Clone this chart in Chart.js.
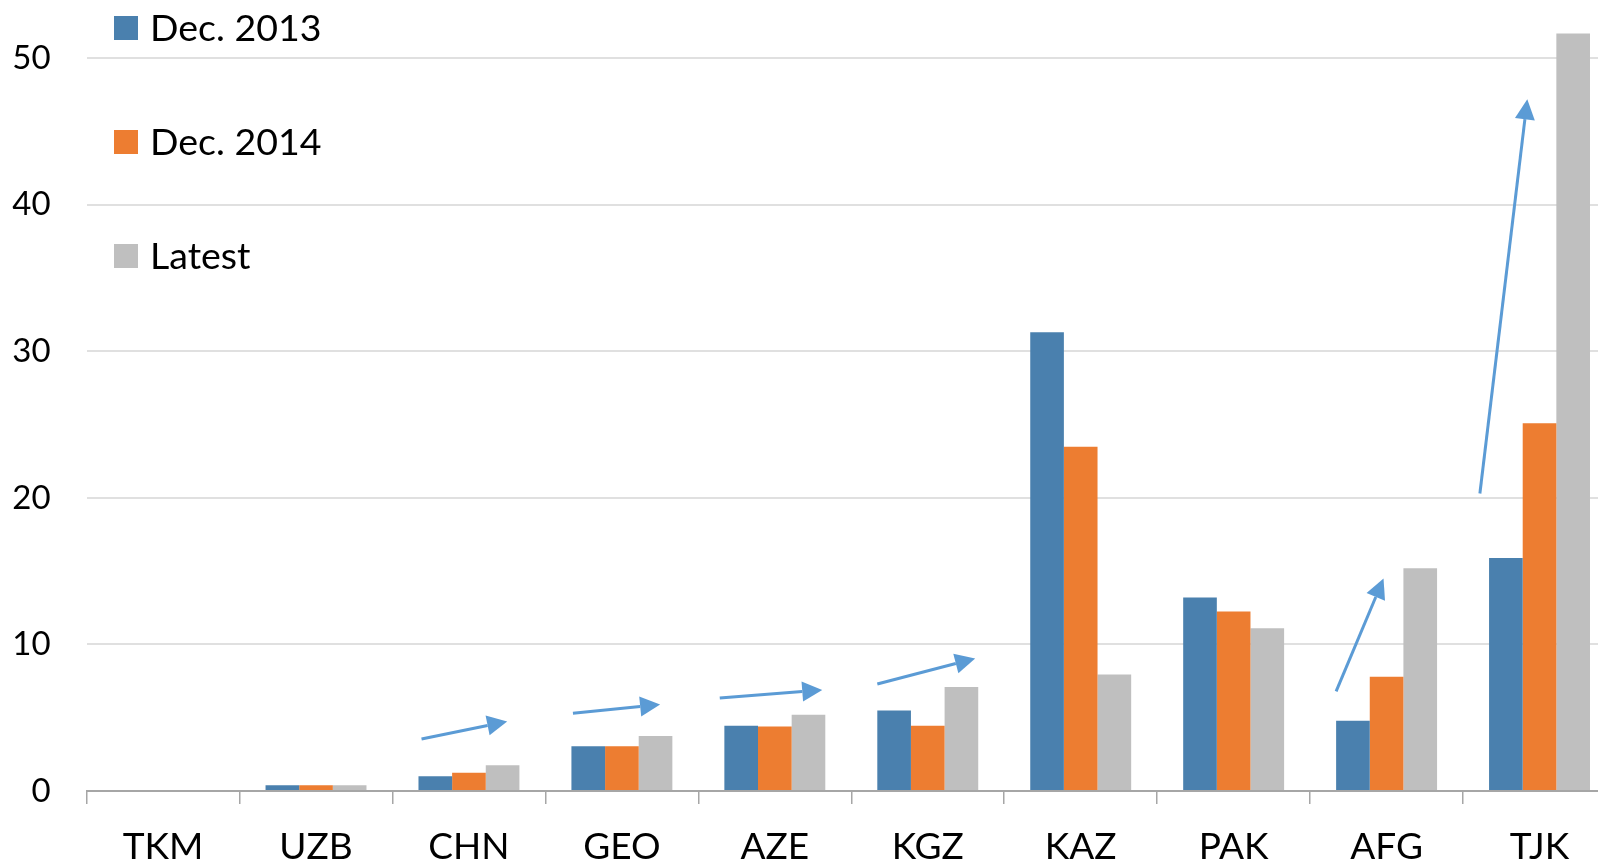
<!DOCTYPE html>
<html>
<head>
<meta charset="utf-8">
<script src="https://cdn.jsdelivr.net/npm/chart.js@4/dist/chart.umd.min.js"></script>
<style>
    html, body {margin: 0; padding: 0; background: #fff; overflow: hidden;}
    #wrap {position: relative; width: 1616px; height: 863px;}
</style>
</head>
<body>
<div id="wrap"><canvas id="myChart"></canvas></div>
<script>
const countries = ['TKM', 'UZB', 'CHN', 'GEO', 'AZE', 'KGZ', 'KAZ', 'PAK', 'AFG', 'TJK'];
const dec2013 = [0, 0.4, 1.0, 3.05, 4.45, 5.5, 31.3, 13.2, 4.8, 15.9];
const dec2014 = [0, 0.4, 1.25, 3.05, 4.4, 4.45, 23.5, 12.25, 7.8, 25.1];
const latest = [0, 0.4, 1.75, 3.75, 5.2, 7.1, 7.95, 11.1, 15.2, 51.7];
const yTicks = [0, 10, 20, 30, 40, 50];

// trend arrows: [fromIndex, fromValue, toIndex, toValue]
const arrows = [
    [1.69, 3.55, 2.25, 4.75],
    [2.68, 5.3, 3.25, 5.9],
    [3.64, 6.35, 4.31, 6.9],
    [4.67, 7.3, 5.31, 9.05],
    [7.67, 6.8, 7.98, 14.5],
    [8.61, 20.3, 8.92, 47.2]
];

const FONT = 'Lato, "Open Sans", sans-serif';

const extras = {
    id: 'extras',
    afterDatasetsDraw(chart) {
        const c = chart.ctx;
        const xs = chart.scales.x, ys = chart.scales.y;
        c.save();
        c.strokeStyle = '#5b9bd5';
        c.fillStyle = '#5b9bd5';
        c.lineWidth = 3;
        arrows.forEach(function (a) {
            const x0 = xs.getPixelForValue(a[0]), y0 = ys.getPixelForValue(a[1]);
            const x1 = xs.getPixelForValue(a[2]), y1 = ys.getPixelForValue(a[3]);
            const ang = Math.atan2(y1 - y0, x1 - x0);
            const hl = 20, hw = 10;
            const bx = x1 - hl * Math.cos(ang), by = y1 - hl * Math.sin(ang);
            c.beginPath();
            c.moveTo(x0, y0);
            c.lineTo(bx, by);
            c.stroke();
            c.beginPath();
            c.moveTo(x1, y1);
            c.lineTo(bx + hw * Math.sin(ang), by - hw * Math.cos(ang));
            c.lineTo(bx - hw * Math.sin(ang), by + hw * Math.cos(ang));
            c.closePath();
            c.fill();
        });
        c.restore();

        // legend, stacked down the top left
        c.save();
        c.font = '37.5px ' + FONT;
        c.textBaseline = 'middle';
        chart.data.datasets.forEach(function (ds, i) {
            const cy = 28 + i * 114;
            c.fillStyle = ds.backgroundColor;
            c.fillRect(114, cy - 12, 24, 24);
            c.fillStyle = '#000';
            c.fillText(ds.label, 150, cy + 1);
        });
        c.restore();
    }
};

const ctx = document.getElementById('myChart');
new Chart(ctx, {
    type: 'bar',
    data: {
        labels: countries,
        datasets: [
            {label: 'Dec. 2013', data: dec2013, backgroundColor: '#4a80ae'},
            {label: 'Dec. 2014', data: dec2014, backgroundColor: '#ed7d31'},
            {label: 'Latest', data: latest, backgroundColor: '#bfbfbf'}
        ]
    },
    options: {
        responsive: true,
        maintainAspectRatio: false,
        animation: false,
        layout: {padding: {top: 29, left: 0, right: 0, bottom: 0}},
        plugins: {legend: {display: false}, tooltip: {enabled: false}},
        datasets: {bar: {categoryPercentage: 0.66, barPercentage: 1}},
        scales: {
            x: {
                afterFit: function (scale) {
                    scale.height = 72;
                    scale.paddingLeft = 0;
                    scale.paddingRight = 0;
                },
                grid: {offset: true, drawOnChartArea: false, tickLength: 13, color: '#a6a6a6', lineWidth: 1.5},
                border: {display: true, color: '#a6a6a6', width: 2},
                ticks: {font: {family: FONT, size: 37}, color: '#000', padding: 21}
            },
            y: {
                min: 0,
                max: 52,
                afterBuildTicks: function (scale) {
                    scale.ticks = yTicks.map(function (v) { return {value: v}; });
                },
                afterFit: function (scale) {
                    scale.width = 86.6;
                    scale.paddingTop = 0;
                    scale.paddingBottom = 0;
                },
                grid: {drawTicks: false, color: '#e0e0e0', lineWidth: 2},
                border: {display: false},
                ticks: {font: {family: FONT, size: 33}, color: '#000', padding: 36}
            }
        }
    },
    plugins: [extras]
});
</script>
</body>
</html>
